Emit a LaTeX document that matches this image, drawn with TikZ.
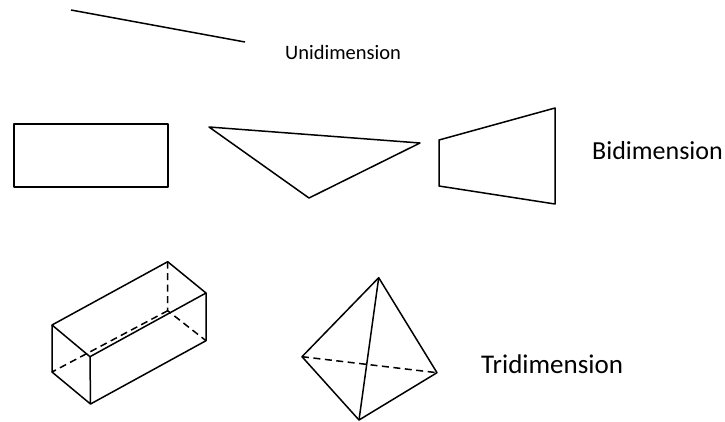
\documentclass[tikz,border=0pt]{standalone}
\usepackage{fontspec}
\setmainfont{Carlito}
\begin{document}
\begin{tikzpicture}[x=1pt,y=-1pt,
  shape line/.style={draw=black,line width=1.5pt,line join=round},
  hidden line/.style={shape line,dash pattern=on 7pt off 4.5pt},
  caption/.style={inner sep=0pt,anchor=west,text=black}]
\useasboundingbox (0,0) rectangle (725,421);
\draw[shape line] (71,10) -- (245,42);
\node[caption,font=\fontsize{20.5}{24}\selectfont] (u) at (285,52) {Unidimension};
\draw[shape line] (14,124) rectangle (168,187);
\draw[shape line] (209,127) -- (420,143) -- (309,198) -- cycle;
\draw[shape line] (439,140) -- (555,108) -- (555,204) -- (439,186) -- cycle;
\node[caption,font=\fontsize{26}{30}\selectfont] (b) at (592,151) {Bidimension};
\draw[shape line] (52,325) -- (167.7,261.7) -- (206,293) -- (90,356.7) -- cycle;
\draw[shape line] (52,325) -- (52,372) -- (90.5,404) -- (90,356.7);
\draw[shape line] (90.5,404) -- (206,340.7) -- (206,293);
\draw[hidden line] (167.7,261.7) -- (167.7,310.7) -- (206,340.7);
\draw[hidden line] (167.7,310.7) -- (52,372);
\draw[shape line] (378.7,277.7) -- (302,356.7) -- (359,420) -- (437,372.7) -- cycle;
\draw[shape line] (378.7,277.7) -- (359,420);
\draw[hidden line] (302,356.7) -- (437,372.7);
\node[caption,font=\fontsize{27}{31}\selectfont] (t) at (481,364) {Tridimension};
\end{tikzpicture}
\end{document}
